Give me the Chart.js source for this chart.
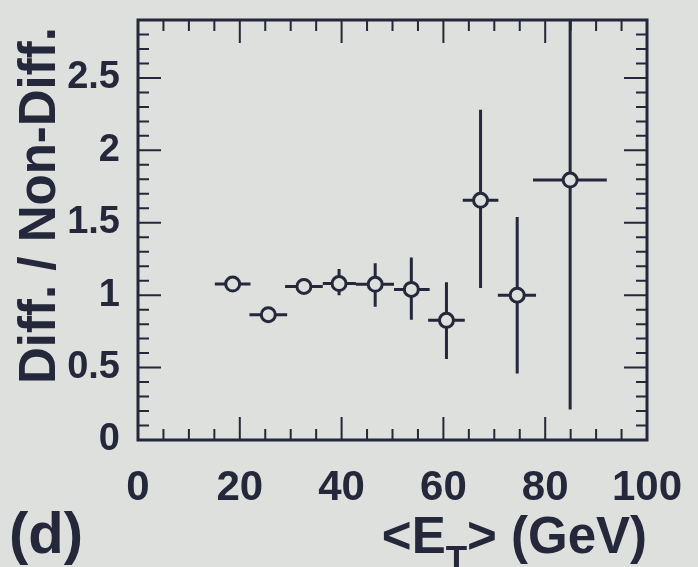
<!DOCTYPE html>
<html>
<head>
<meta charset="utf-8">
<script src="https://cdn.jsdelivr.net/npm/chart.js@4.4.0/dist/chart.umd.min.js"></script>
<style>
  html, body { margin: 0; padding: 0; background: #dde0dc; }
  canvas { display: block; }
</style>
</head>
<body>
<canvas id="ratio" width="698" height="567"></canvas>
<script>
// mean ET per bin and the diffractive / non-diffractive ratio
const etMean    = [18.6, 25.6, 32.6, 39.5, 46.6, 53.7, 60.6, 67.3, 74.5, 84.9];
const ratio     = [1.077, 0.865, 1.06, 1.08, 1.075, 1.04, 0.826, 1.655, 1.0, 1.795];
const etLow     = [15.1, 21.9, 28.9, 36.3, 42.8, 50.3, 57.0, 63.8, 70.7, 77.6];
const etHigh    = [22.1, 29.3, 36.3, 42.8, 50.3, 57.3, 64.2, 70.8, 78.2, 92.1];
const ratioLow  = [1.05, 0.84, 1.03, 1.0, 0.92, 0.83, 0.56, 1.05, 0.46, 0.21];
const ratioHigh = [1.10, 0.89, 1.09, 1.18, 1.22, 1.26, 1.09, 2.28, 1.54, 3.4];

const xTicks = [0, 20, 40, 60, 80, 100];
const yTicks = [0, 0.5, 1, 1.5, 2, 2.5];

const ink = '#25273a';
const paper = '#dde0dc';
const family = '"Liberation Sans", Arial, sans-serif';

const paperFill = {
  id: 'paperFill',
  beforeDraw(chart) {
    const ctx = chart.ctx;
    ctx.save();
    ctx.fillStyle = paper;
    ctx.fillRect(0, 0, chart.width, chart.height);
    ctx.restore();
  }
};

const errorBars = {
  id: 'errorBars',
  beforeDatasetsDraw(chart) {
    const { ctx, chartArea, scales: { x, y } } = chart;
    ctx.save();
    ctx.beginPath();
    ctx.rect(chartArea.left, chartArea.top, chartArea.right - chartArea.left, chartArea.bottom - chartArea.top);
    ctx.clip();
    ctx.strokeStyle = ink;
    ctx.lineWidth = 3;
    ctx.beginPath();
    etMean.forEach((et, i) => {
      const py = y.getPixelForValue(ratio[i]);
      const px = x.getPixelForValue(et);
      ctx.moveTo(x.getPixelForValue(etLow[i]), py);
      ctx.lineTo(x.getPixelForValue(etHigh[i]), py);
      ctx.moveTo(px, y.getPixelForValue(ratioLow[i]));
      ctx.lineTo(px, y.getPixelForValue(ratioHigh[i]));
    });
    ctx.stroke();
    ctx.restore();
  }
};

// box round the plot with inward ticks on all four sides
const frame = {
  id: 'frame',
  afterDatasetsDraw(chart) {
    const { ctx, chartArea: a, scales: { x, y } } = chart;
    ctx.save();
    ctx.strokeStyle = ink;
    ctx.lineWidth = 2;
    ctx.beginPath();
    for (let v = 5; v < 100; v += 5) {
      const px = x.getPixelForValue(v);
      const len = v % 20 === 0 ? 23 : 11;
      ctx.moveTo(px, a.bottom); ctx.lineTo(px, a.bottom - len);
      ctx.moveTo(px, a.top); ctx.lineTo(px, a.top + len);
    }
    for (let k = 1; k < 29; k++) {
      const py = y.getPixelForValue(k / 10);
      const len = k % 5 === 0 ? 23 : 11;
      ctx.moveTo(a.left, py); ctx.lineTo(a.left + len, py);
      ctx.moveTo(a.right, py); ctx.lineTo(a.right - len, py);
    }
    ctx.stroke();
    ctx.lineWidth = 3;
    ctx.strokeRect(a.left, a.top, a.right - a.left, a.bottom - a.top);
    ctx.restore();
  }
};

const titles = {
  id: 'titles',
  afterDraw(chart) {
    const { ctx, chartArea: a } = chart;
    ctx.save();
    ctx.fillStyle = ink;
    ctx.textBaseline = 'alphabetic';

    // y title, reading upwards
    ctx.save();
    ctx.translate(55, 384);
    ctx.rotate(-Math.PI / 2);
    ctx.font = 'bold 51px ' + family;
    ctx.textAlign = 'left';
    ctx.fillText('Diff. / Non-Diff.', 0, 0);
    ctx.restore();

    // x title <E_T> (GeV), right aligned to the frame
    const big = 'bold 51px ' + family;
    const sub = 'bold 35px ' + family;
    const base = 553;
    ctx.textAlign = 'left';
    ctx.font = big;
    const w1 = ctx.measureText('<E').width;
    const w3 = ctx.measureText('> (GeV)').width;
    ctx.font = sub;
    const w2 = ctx.measureText('T').width;
    let px = a.right - (w1 + w2 + w3);
    ctx.font = big;
    ctx.fillText('<E', px, base);
    px += w1;
    ctx.font = sub;
    ctx.fillText('T', px, base + 17);
    px += w2;
    ctx.font = big;
    ctx.fillText('> (GeV)', px, base);

    // panel letter
    ctx.font = 'bold 58px ' + family;
    ctx.fillText('(d)', 9, base);
    ctx.restore();
  }
};

new Chart(document.getElementById('ratio'), {
  type: 'scatter',
  data: {
    datasets: [{
      label: 'Diff. / Non-Diff.',
      data: etMean.map((et, i) => ({ x: et, y: ratio[i] })),
      pointStyle: 'circle',
      pointRadius: 7,
      pointBorderWidth: 3,
      pointBorderColor: ink,
      pointBackgroundColor: paper,
      pointHoverRadius: 7
    }]
  },
  options: {
    responsive: false,
    animation: false,
    layout: { padding: { top: 20, right: 51, left: 0, bottom: 0 } },
    plugins: {
      legend: { display: false },
      tooltip: { enabled: false }
    },
    scales: {
      x: {
        type: 'linear',
        min: 0,
        max: 100,
        grid: { display: false, drawTicks: false },
        border: { display: false },
        afterBuildTicks: s => { s.ticks = xTicks.map(v => ({ value: v })); },
        afterFit: s => { s.height = 127; s.paddingLeft = 0; s.paddingRight = 0; },
        ticks: {
          padding: 23,
          color: ink,
          maxRotation: 0,
          font: { family, size: 42, weight: 'bold' }
        }
      },
      y: {
        type: 'linear',
        min: 0,
        max: 2.9,
        grid: { display: false, drawTicks: false },
        border: { display: false },
        afterBuildTicks: s => { s.ticks = yTicks.map(v => ({ value: v })); },
        afterFit: s => { s.width = 138; s.paddingTop = 0; s.paddingBottom = 0; },
        ticks: {
          padding: 18,
          color: ink,
          callback: v => String(+v.toFixed(1)),
          font: { family, size: 38, weight: 'bold' }
        }
      }
    }
  },
  plugins: [paperFill, errorBars, frame, titles]
});
</script>
</body>
</html>
